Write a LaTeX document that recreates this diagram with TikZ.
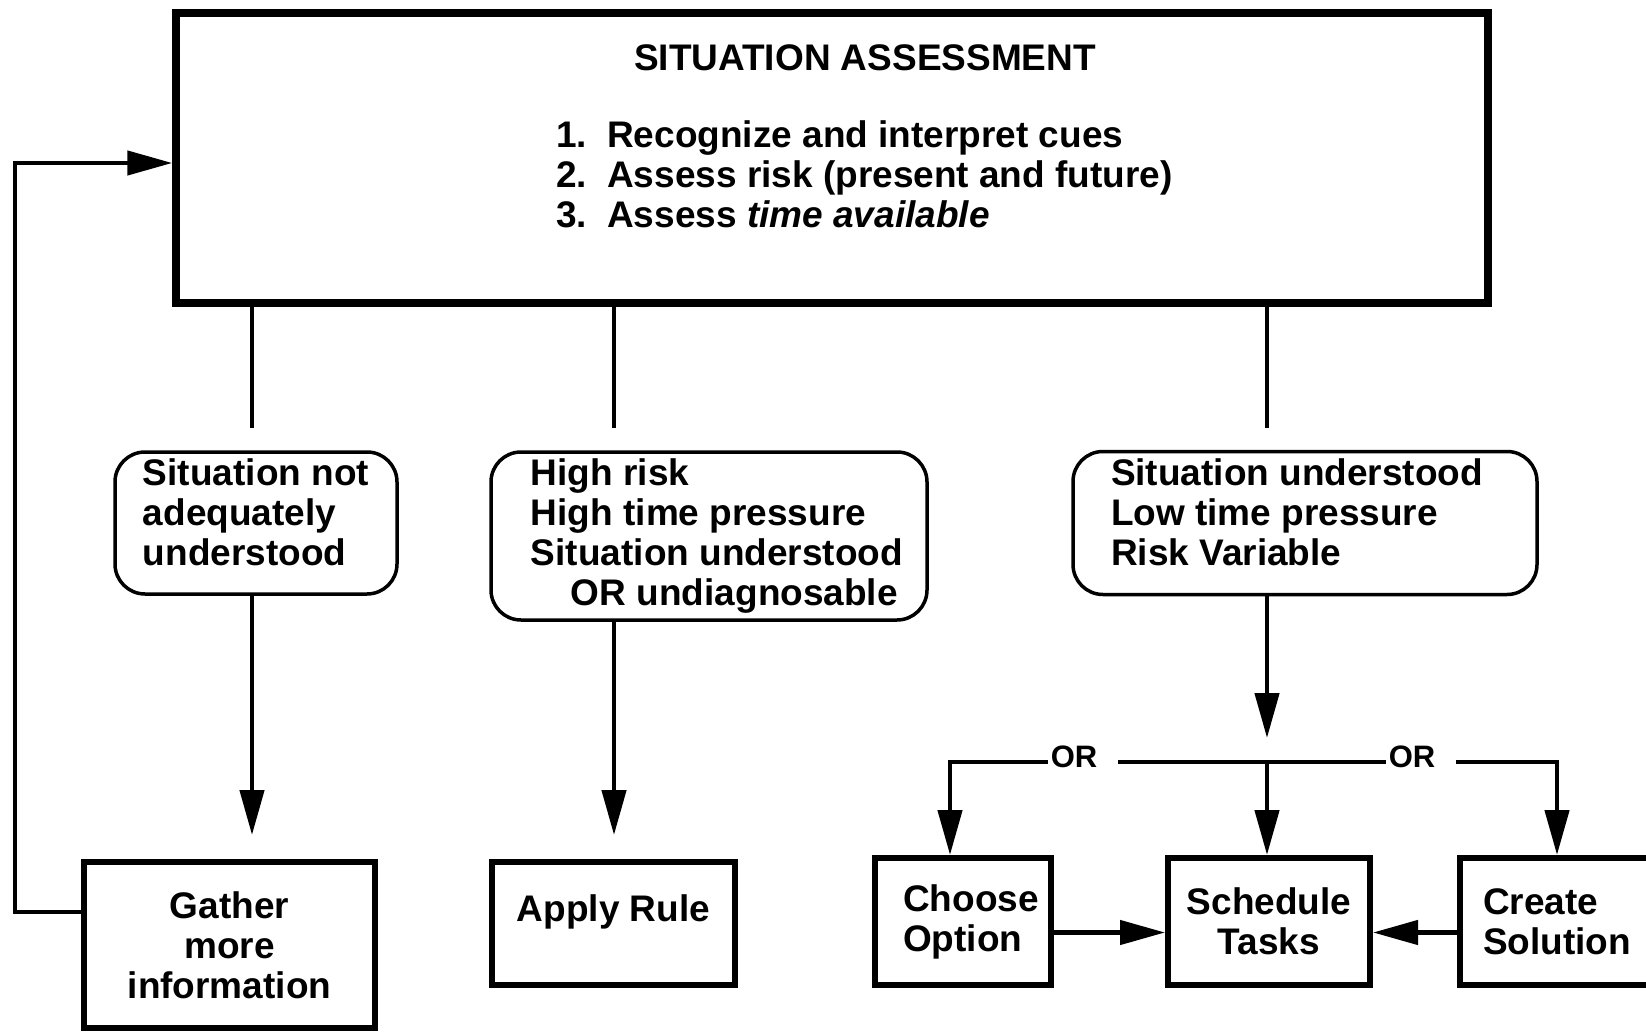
\documentclass[tikz,border=0pt]{standalone}
\usepackage{fontspec}
\setmainfont{Liberation Sans}
\usetikzlibrary{arrows.meta,calc}
\begin{document}
\begin{tikzpicture}[x=1pt,y=-1pt,
  txt/.style={font=\fontsize{37}{40}\selectfont\bfseries, inner sep=0pt},
  ortxt/.style={font=\fontsize{31}{34}\selectfont\bfseries, inner sep=0pt},
  bigbox/.style={draw, line width=7.5pt, inner sep=0pt},
  rbox/.style={draw, line width=3.5pt, rounded corners=30pt, align=left, inner sep=0pt, font=\fontsize{37}{40}\selectfont\bfseries},
  sbox/.style={draw, line width=6pt, inner sep=0pt, font=\fontsize{37}{40}\selectfont\bfseries},
  conn/.style={line width=4.5pt},
  arr/.style={conn, -{Triangle[length=45pt,width=24pt]}}
]
\useasboundingbox (0,0) rectangle (1646,1032);
\fill[white] (0,0) rectangle (1646,1032);
\clip (0,0) rectangle (1646,1032);

% top box
\node[bigbox, minimum width=1312pt, minimum height=290pt] (top) at (832,158) {};
\node[txt] (title) at (865,58) {SITUATION ASSESSMENT};
\node[txt, anchor=west, align=left] (list) at (556,174) {%
  \makebox[51pt][l]{1.}Recognize and interpret cues\\
  \makebox[51pt][l]{2.}Assess risk (present and future)\\
  \makebox[51pt][l]{3.}Assess \textit{time available}};

% condition boxes
\node[rbox, minimum width=282pt, minimum height=142pt, text depth=22pt] (box1) at (256,523) {Situation not\\adequately\\understood};
\node[rbox, minimum width=436pt, minimum height=168pt] (box2) at (709,536) {\hspace*{16pt}High risk\\\hspace*{16pt}High time pressure\\\hspace*{16pt}Situation understood\\\hspace*{56pt}OR undiagnosable};
\node[rbox, minimum width=464pt, minimum height=143pt, text depth=22pt] (box3) at (1305,523) {Situation understood\hspace*{16pt}\\Low time pressure\\Risk Variable};

% action boxes
\node[sbox, align=center, minimum width=291pt, minimum height=166pt] (gather) at (229.5,945) {Gather\\more\\information};
\node[sbox, minimum width=243pt, minimum height=123pt, text depth=30pt] (apply) at (613.5,923.5) {Apply Rule};
\node[sbox, align=left, minimum width=176pt, minimum height=127pt] (choose) at (963,921.5) {\hspace*{16pt}Choose\\\hspace*{16pt}Option};
\node[sbox, align=center, minimum width=202pt, minimum height=127pt] (schedule) at (1269,921.5) {Schedule\\Tasks};
\node[sbox, align=left, minimum width=194pt, minimum height=127pt] (create) at (1557,921.5) {Create\\Solution};

% OR labels and junction
\node[ortxt] (or1) at (1074,757) {OR};
\node[ortxt] (or2) at (1412,757) {OR};
\coordinate (J) at (1267,762);

% helper coordinates
\coordinate (c1) at ([xshift=-4pt]box1.north);
\coordinate (c2) at ([xshift=-95pt]box2.north);
\coordinate (c3) at ([xshift=-38pt]box3.north);
\coordinate (o1e) at ([xshift=21pt]or1.east);
\coordinate (o2e) at ([xshift=21pt]or2.east);
\coordinate (o2w) at ([xshift=-3pt]or2.west);
\coordinate (o1w) at ([xshift=-3pt]or1.west);
\coordinate (chT) at ([xshift=-13pt]choose.north);

% stubs from top box
\draw[conn, shorten >=22pt] (c1 |- top.south) -- (c1);
\draw[conn, shorten >=22pt] (c2 |- top.south) -- (c2);
\draw[conn, shorten >=22pt] (c3 |- top.south) -- (c3);

% down arrows
\draw[arr, shorten >=24pt] (c1 |- box1.south) -- (c1 |- gather.north);
\draw[arr, shorten >=24pt] (c2 |- box2.south) -- (c2 |- apply.north);
\draw[arr, shorten >=24pt] (c3 |- box3.south) -- (J);

% OR distribution
\draw[conn] (o1e |- J) -- (o2w |- J);
\draw[arr] (o1w |- J) -| (chT);
\draw[arr] (o2e |- J) -| (create.north);
\draw[arr] (J) -- (J |- schedule.north);

% horizontal arrows into Schedule Tasks
\draw[arr] ([yshift=-11pt]choose.east) -- ([yshift=-11pt]schedule.west);
\draw[arr] ([yshift=-11pt]create.west) -- ([yshift=-11pt]schedule.east);

% feedback loop
\draw[arr] ([yshift=33pt]gather.west) -- ++(-66,0) |- ([yshift=-5pt]top.west);
\end{tikzpicture}
\end{document}
